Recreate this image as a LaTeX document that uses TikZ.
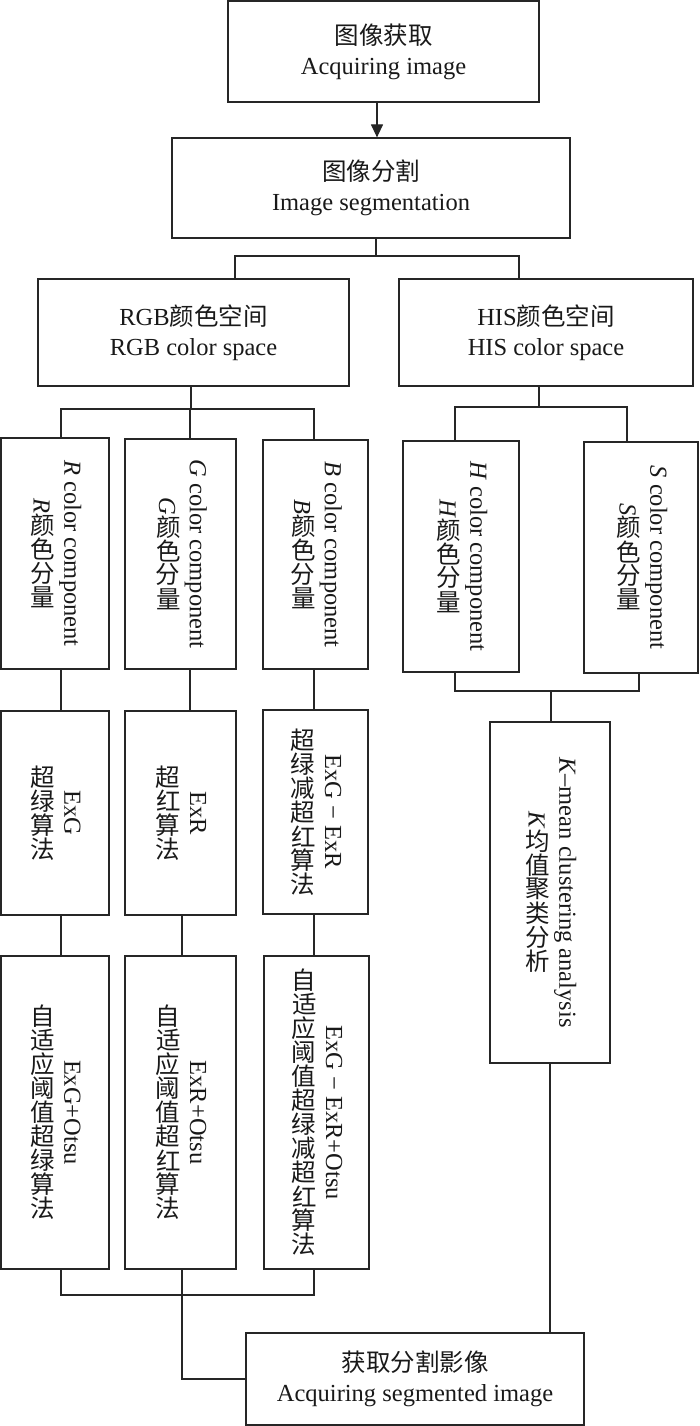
\documentclass[tikz,border=0pt]{standalone}
\usepackage{fontspec}
\setmainfont{Liberation Serif}
\newfontfamily\cjk{Noto Sans CJK SC}
\usetikzlibrary{arrows.meta}
\newcommand\Vt[1]{\Vloop#1\relax}
\def\Vloop#1{\ifx\relax#1\else\makebox[0.98em][c]{\rotatebox[origin=c]{90}{\cjk #1}}\expandafter\Vloop\fi}
\newcommand\Ct[1]{{\cjk #1}}
\newcommand\Vtext[2]{\rotatebox{-90}{\begin{tabular}{@{}c@{}}#1\\#2\end{tabular}}}
\tikzset{
  box/.style={draw=black!85, line width=1.2pt, rectangle, inner sep=0pt, align=center,
    font=\fontsize{24.5}{30}\selectfont, text=black!90},
  conn/.style={draw=black!85, line width=1.2pt},
  arr/.style={conn, -{Triangle[length=13pt,width=12pt]}}
}
\begin{document}
\begin{tikzpicture}[x=1pt,y=-1pt]
\useasboundingbox (0,0) rectangle (700,1426);
% top boxes
\node[box, minimum width=311pt, minimum height=101pt] (b1) at (383.5,51.5) {\Ct{图像获取}\\Acquiring image};
\node[box, minimum width=398pt, minimum height=100pt] (b2) at (371,188) {\Ct{图像分割}\\Image segmentation};
\node[box, minimum width=311pt, minimum height=107pt] (rgb) at (193.5,332.5) {RGB\Ct{颜色空间}\\RGB color space};
\node[box, minimum width=294pt, minimum height=107pt] (his) at (546,332.5) {HIS\Ct{颜色空间}\\HIS color space};
% component boxes
\node[box, minimum width=108pt, minimum height=231pt] (R) at (55,553.5) {\Vtext{\textit{R} color component}{\textit{R}\Vt{颜色分量}}};
\node[box, minimum width=111pt, minimum height=230pt] (G) at (180.5,554) {\Vtext{\textit{G} color component}{\textit{G}\Vt{颜色分量}}};
\node[box, minimum width=105pt, minimum height=229pt] (B) at (315.5,554.5) {\Vtext{\textit{B} color component}{\textit{B}\Vt{颜色分量}}};
\node[box, minimum width=116pt, minimum height=231pt] (H) at (461,556.5) {\Vtext{\textit{H} color component}{\textit{H}\Vt{颜色分量}}};
\node[box, minimum width=114pt, minimum height=231pt] (S) at (641,557.5) {\Vtext{\textit{S} color component}{\textit{S}\Vt{颜色分量}}};
% algorithm boxes
\node[box, minimum width=108pt, minimum height=204pt] (ExG) at (55,813) {\Vtext{ExG}{\Vt{超绿算法}}};
\node[box, minimum width=111pt, minimum height=204pt] (ExR) at (180.5,813) {\Vtext{ExR}{\Vt{超红算法}}};
\node[box, minimum width=105pt, minimum height=204pt] (ExGR) at (315.5,812) {\Vtext{ExG − ExR}{\Vt{超绿减超红算法}}};
% Otsu boxes
\node[box, minimum width=108pt, minimum height=313pt] (O1) at (55,1112.5) {\Vtext{ExG+Otsu}{\Vt{自适应阈值超绿算法}}};
\node[box, minimum width=111pt, minimum height=313pt] (O2) at (180.5,1112.5) {\Vtext{ExR+Otsu}{\Vt{自适应阈值超红算法}}};
\node[box, minimum width=105pt, minimum height=313pt] (O3) at (316.5,1112.5) {\Vtext{ExG − ExR+Otsu}{\Vt{自适应阈值超绿减超红算法}}};
% K-means
\node[box, minimum width=120pt, minimum height=341pt] (K) at (550,892.5) {\Vtext{\textit{K}–mean clustering analysis}{\textit{K}\Vt{均值聚类分析}}};
% final
\node[box, minimum width=338pt, minimum height=92pt] (F) at (415,1379) {\Ct{获取分割影像}\\Acquiring segmented image};
% connectors
\draw[arr] (377,0 |- b1.south) -- (377,0 |- b2.north);
\draw[conn] (376,0 |- b2.south) -- (376,256);
\draw[conn] (235,0 |- rgb.north) |- (519,256) -- (519,0 |- his.north);
\draw[conn] (191,0 |- rgb.south) -- (191,409);
\draw[conn] (61,0 |- R.north) |- (314,409) -- (314,0 |- B.north);
\draw[conn] (190,409) -- (190,0 |- G.north);
\draw[conn] (539,0 |- his.south) -- (539,407);
\draw[conn] (455,0 |- H.north) |- (627,407) -- (627,0 |- S.north);
\draw[conn] (61,0 |- R.south) -- (61,0 |- ExG.north);
\draw[conn] (190,0 |- G.south) -- (190,0 |- ExR.north);
\draw[conn] (314,0 |- B.south) -- (314,0 |- ExGR.north);
\draw[conn] (61,0 |- ExG.south) -- (61,0 |- O1.north);
\draw[conn] (182,0 |- ExR.south) -- (182,0 |- O2.north);
\draw[conn] (314,0 |- ExGR.south) -- (314,0 |- O3.north);
\draw[conn] (61,0 |- O1.south) |- (314,1295) -- (314,0 |- O3.south);
\draw[conn] (182,0 |- O2.south) -- (182,1295) |- (F.west);
\draw[conn] (455,0 |- H.south) |- (639,691) -- (639,0 |- S.south);
\draw[conn] (551,691) -- (551,0 |- K.north);
\draw[conn] (550,0 |- K.south) -- (550,0 |- F.north);
\end{tikzpicture}
\end{document}
